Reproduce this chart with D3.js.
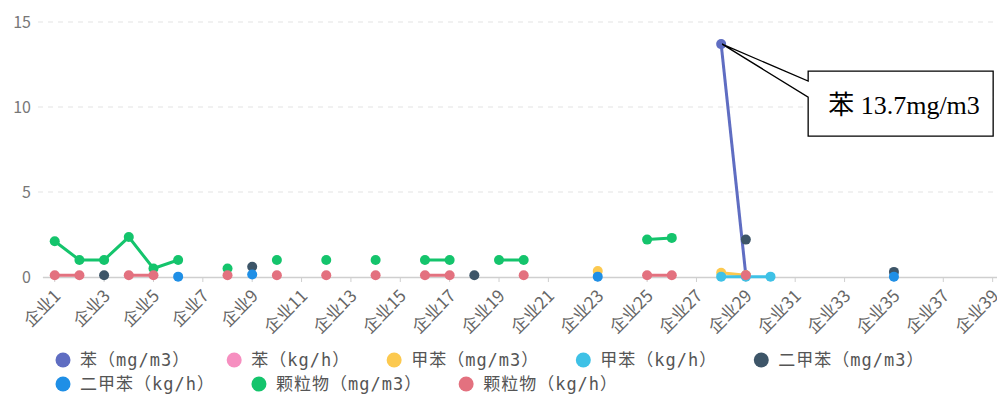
<!DOCTYPE html>
<html>
<head>
<meta charset="utf-8">
<script src="https://cdn.jsdelivr.net/npm/d3@7"></script>
<style>
    body { margin: 0; background: #fff; }
    svg { display: block; }
</style>
</head>
<body>
<svg id="chart"></svg>
<script>
// categories on the x axis
const companies = ['企业1','企业2','企业3','企业4','企业5','企业6','企业7','企业8','企业9','企业10',
    '企业11','企业12','企业13','企业14','企业15','企业16','企业17','企业18','企业19','企业20',
    '企业21','企业22','企业23','企业24','企业25','企业26','企业27','企业28','企业29','企业30',
    '企业31','企业32','企业33','企业34','企业35','企业36','企业37','企业38','企业39']

const yTicks = [0, 5, 10, 15]

const seriesNames = ['苯（mg/m3）','苯（kg/h）','甲苯（mg/m3）','甲苯（kg/h）','二甲苯（mg/m3）','二甲苯（kg/h）','颗粒物（mg/m3）','颗粒物（kg/h）']
const seriesColors = ['#5f6dc2','#f68fc0','#fcc94f','#3ec1e6','#3d5568','#1f8fe6','#14c46c','#e3717f']

// one value per company, null = no reading
const benMg      = [null,null,null,null,null,null,null,null,null,null,null,null,null,null,null,null,null,null,null,null,null,null,null,null,null,null,null,13.7,0.1,null,null,null,null,null,null,null,null,null,null]
const benKg      = [null,null,null,null,null,null,null,null,null,null,null,null,null,null,null,null,null,null,null,null,null,null,null,null,null,null,null,null,null,null,null,null,null,null,null,null,null,null,null]
const tolMg      = [null,null,null,null,null,null,null,null,null,null,null,null,null,null,null,null,null,null,null,null,null,null,0.35,null,null,null,null,0.25,0.1,null,null,null,null,null,null,null,null,null,null]
const tolKg      = [null,null,null,null,null,null,null,null,null,null,null,null,null,null,null,null,null,null,null,null,null,null,null,null,null,null,null,0.02,0.02,0.02,null,null,null,null,null,null,null,null,null]
const xylMg      = [null,null,0.1,null,null,null,null,null,0.6,null,null,null,null,null,null,null,null,0.1,null,null,null,null,null,null,null,null,null,null,2.2,null,null,null,null,null,0.3,null,null,null,null]
const xylKg      = [null,null,null,null,null,0.02,null,null,0.15,null,null,null,null,null,null,null,null,null,null,null,null,null,0.02,null,null,null,null,null,null,null,null,null,null,null,0.02,null,null,null,null]
const particleMg = [2.1,1.0,1.0,2.35,0.5,1.0,null,0.5,null,1.0,null,1.0,null,1.0,null,1.0,1.0,null,1.0,1.0,null,null,null,null,2.2,2.3,null,null,null,null,null,null,null,null,null,null,null,null,null]
const particleKg = [0.1,0.1,null,0.1,0.1,null,null,0.1,null,0.1,null,0.1,null,0.1,null,0.1,0.1,null,null,0.1,null,null,null,null,0.1,0.1,null,null,0.1,null,null,null,null,null,null,null,null,null,null]

const seriesValues = [benMg, benKg, tolMg, tolKg, xylMg, xylKg, particleMg, particleKg]

// callout on the peak
const calloutCompany = '企业28'
const calloutValue = 13.7
const calloutText = '苯 13.7mg/m3'

class LineChart {

    constructor(_config) {
        this.config = {
            parentElement: _config.parentElement,
            containerWidth: _config.containerWidth || 997,
            containerHeight: _config.containerHeight || 403,
            plot: { left: 42.4, right: 1005, top: 22, bottom: 277 }
        }
        this.data = seriesNames.map((name, i) => ({
            name: name,
            color: seriesColors[i],
            values: seriesValues[i].map((v, j) => ({ company: companies[j], value: v }))
        }))
        this.initVis()
    }

    initVis() {
        let vis = this
        let p = vis.config.plot

        vis.svg = d3.select(vis.config.parentElement)
            .attr('width', vis.config.containerWidth)
            .attr('height', vis.config.containerHeight)

        vis.xScale = d3.scaleBand()
            .domain(companies)
            .range([p.left, p.right])

        vis.yScale = d3.scaleLinear()
            .domain([0, 15])
            .range([p.bottom, p.top])

        vis.xPos = c => vis.xScale(c) + vis.xScale.bandwidth() / 2

        vis.renderVis()
    }

    renderVis() {
        let vis = this
        let p = vis.config.plot
        let W = vis.config.containerWidth

        // dashed grid
        vis.svg.append('g')
            .selectAll('line')
            .data(yTicks.filter(d => d > 0))
            .join('line')
                .attr('x1', 38)
                .attr('x2', W)
                .attr('y1', d => vis.yScale(d))
                .attr('y2', d => vis.yScale(d))
                .attr('stroke', '#e3e3e3')
                .attr('stroke-dasharray', '5,5')

        // y labels
        vis.svg.append('g')
            .selectAll('text')
            .data(yTicks)
            .join('text')
                .attr('x', 31)
                .attr('y', d => vis.yScale(d))
                .attr('dy', '0.35em')
                .attr('text-anchor', 'end')
                .attr('font-family', 'Noto Sans CJK SC, sans-serif')
                .attr('font-size', 16)
                .attr('fill', '#777')
                .text(d => d)

        // x axis
        let xAxis = d3.axisBottom(vis.xScale)
            .tickValues(companies.filter((d, i) => i % 2 === 0))
            .tickSize(5)
            .tickSizeOuter(0)
        let xg = vis.svg.append('g')
            .attr('transform', `translate(0, ${p.bottom})`)
            .call(xAxis)
        xg.select('.domain').attr('stroke', '#cfcfcf').attr('stroke-width', 1.5)
        xg.selectAll('.tick line').attr('stroke', '#cfcfcf')
        xg.selectAll('.tick text')
            .attr('font-family', 'Noto Sans CJK SC, sans-serif')
            .attr('font-size', 17)
            .attr('fill', '#666')
            .attr('text-anchor', 'end')
            .attr('dy', 0)
            .attr('y', 0)
            .attr('transform', 'translate(7, 20) rotate(-45)')

        // lines and points
        let line = d3.line()
            .defined(d => d.value !== null)
            .x(d => vis.xPos(d.company))
            .y(d => vis.yScale(d.value))

        let groups = vis.svg.append('g')
            .selectAll('.series')
            .data(vis.data)
            .join('g')
                .attr('class', 'series')

        groups.append('path')
            .attr('d', d => line(d.values))
            .attr('fill', 'none')
            .attr('stroke', d => d.color)
            .attr('stroke-width', 3)

        groups.selectAll('circle')
            .data(d => d.values.filter(v => v.value !== null).map(v => ({ ...v, color: d.color })))
            .join('circle')
                .attr('cx', d => vis.xPos(d.company))
                .attr('cy', d => vis.yScale(d.value))
                .attr('r', 5)
                .attr('fill', d => d.color)

        // callout box
        let ax = vis.xPos(calloutCompany) + 1
        let ay = vis.yScale(calloutValue)
        let bx = ax + 86, by = ay + 27, bw = 185, bh = 65
        let callout = vis.svg.append('g')
        callout.append('path')
            .attr('d', `M${bx},${by} H${bx + bw} V${by + bh} H${bx} V${by + 26} L${ax},${ay} L${bx},${by + 10} Z`)
            .attr('fill', '#fff')
            .attr('stroke', '#000')
            .attr('stroke-width', 1.3)
        callout.append('text')
            .attr('x', bx + 20)
            .attr('y', by + 43)
            .attr('font-family', 'Liberation Serif, Noto Sans CJK SC, serif')
            .attr('font-size', 26)
            .attr('fill', '#000')
            .text(calloutText)

        // legend, two rows
        let rows = [seriesNames.slice(0, 5), seriesNames.slice(5)]
        let rowY = [360, 384]
        rows.forEach((names, r) => {
            let x = 63
            names.forEach(name => {
                let i = seriesNames.indexOf(name)
                let item = vis.svg.append('g').attr('transform', `translate(${x}, ${rowY[r]})`)
                item.append('circle')
                    .attr('r', 7.5)
                    .attr('fill', seriesColors[i])
                let t = item.append('text')
                    .attr('x', 17)
                    .attr('dy', '0.35em')
                    .attr('font-family', 'DejaVu Sans Mono, Noto Sans CJK SC, monospace')
                    .attr('font-size', 17)
                    .attr('letter-spacing', 1)
                    .attr('fill', '#555')
                    .text(name)
                x += 17 + t.node().getComputedTextLength() + 44
            })
        })
    }
}

new LineChart({ parentElement: '#chart' })
</script>
</body>
</html>
